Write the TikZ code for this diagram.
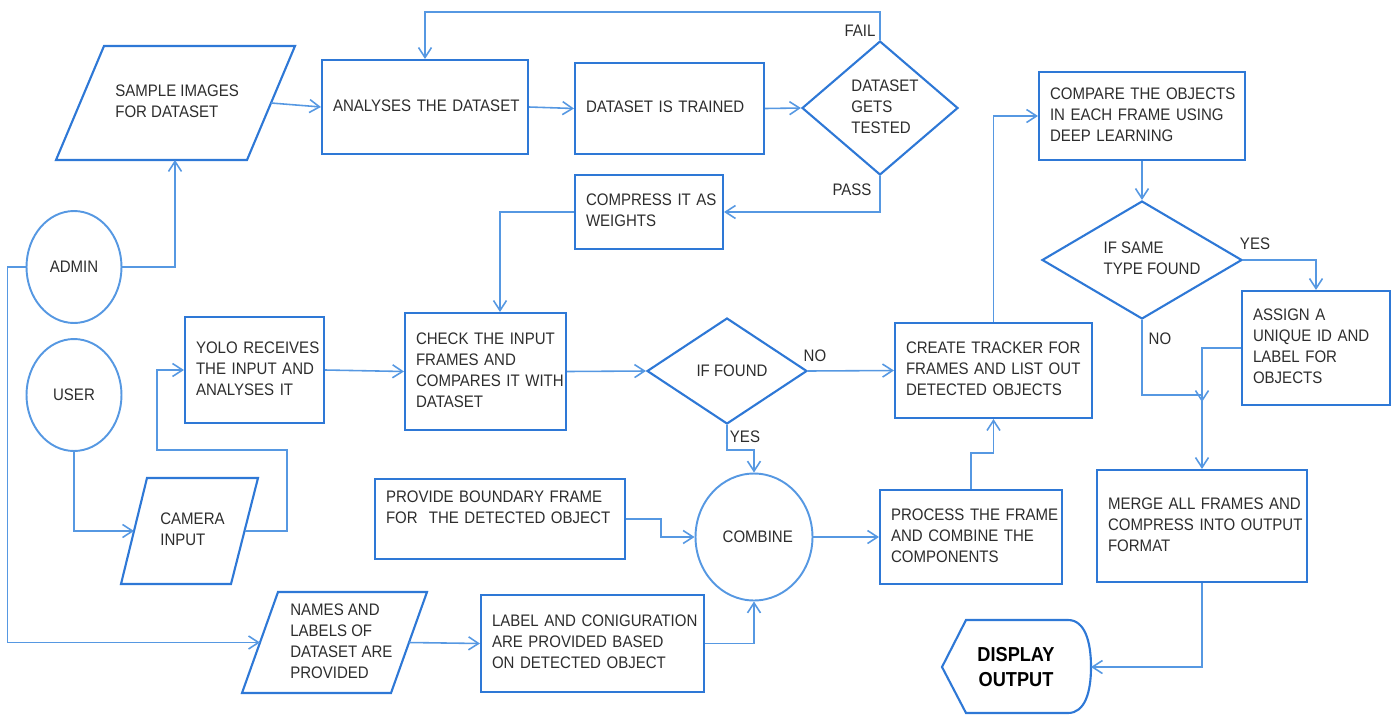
\documentclass[tikz,border=0pt]{standalone}
\usepackage{fontspec}
\setmainfont{Liberation Sans}[FakeStretch=0.9]
\usetikzlibrary{shapes.geometric,arrows.meta}
\definecolor{boxblue}{RGB}{46,120,214}
\definecolor{lineblue}{RGB}{86,152,226}
\definecolor{txtgray}{RGB}{45,45,45}
\newcommand{\boxlines}[1]{\begin{tabular}{@{}l@{}}#1\end{tabular}}
\begin{document}
\begin{tikzpicture}[x=0.02cm,y=-0.02cm,
  font=\fontsize{9.5}{11.9}\selectfont,text=txtgray,
  >={Straight Barb[length=2mm,width=2.6mm]},
  proc/.style n args={2}{draw=boxblue,line width=1.2pt,text width=#1,minimum height=#2,inner xsep=0.22cm,inner ysep=0pt,align=left},
  io/.style={draw=boxblue,line width=1.2pt},
  ask/.style n args={3}{diamond,draw=boxblue,line width=1.2pt,minimum width=#1,minimum height=#2,aspect=#3,inner sep=0pt,align=left},
  actor/.style={ellipse,draw=lineblue,line width=1.1pt,minimum width=1.9cm,minimum height=2.24cm,inner sep=0pt},
  conn/.style={draw=lineblue,line width=0.9pt,->},
  tag/.style={inner sep=0pt}]
\useasboundingbox (0,0) rectangle (1400,714);

% actors
\node[actor] (admin) at (74,267) {ADMIN};
\node[actor] (user) at (74,395) {USER};

% input / output shapes
\draw[io] (104,46) -- (295,46) -- (247,160) -- (56,160) -- cycle;
\node[tag,anchor=west] (sample) at (115,103) {\boxlines{SAMPLE IMAGES\\FOR DATASET}};
\coordinate (sample-e) at (271,103);
\coordinate (sample-s) at (175,160);
\draw[io] (147,478) -- (258,478) -- (231,584) -- (121,584) -- cycle;
\node[tag,anchor=west] (camera) at (160,531) {\boxlines{CAMERA\\INPUT}};
\coordinate (camera-w) at (134,531);
\coordinate (camera-e) at (245,531);
\draw[io] (278,592) -- (427,592) -- (391,693) -- (242,693) -- cycle;
\node[tag,anchor=west] (names) at (290,642.5) {\boxlines{NAMES AND\\LABELS OF\\DATASET ARE\\PROVIDED}};
\coordinate (names-w) at (260,642.5);
\coordinate (names-e) at (409,642.5);
\draw[io] (942,667) -- (966,620) -- (1068,620) .. controls (1085,620) and (1091,642) .. (1091,667)
  .. controls (1091,692) and (1085,713) .. (1068,713) -- (966,713) -- cycle;
\node[tag,text=black,align=center,font=\fontsize{11.5}{14.2}\selectfont\bfseries] (display) at (1016,667) {DISPLAY\\OUTPUT};
\coordinate (display-e) at (1091,667);

% process boxes
\node[proc={3.68cm}{1.88cm}] (analyse) at (425,107) {\boxlines{ANALYSES THE DATASET}};
\node[proc={3.34cm}{1.82cm}] (trained) at (669.5,108.5) {\boxlines{DATASET IS TRAINED}};
\node[proc={2.52cm}{1.48cm}] (compress) at (649,212) {\boxlines{COMPRESS IT AS\\WEIGHTS}};
\node[proc={2.34cm}{2.12cm}] (yolo) at (254.5,370) {\boxlines{YOLO RECEIVES\\THE INPUT AND\\ANALYSES IT}};
\node[proc={2.78cm}{2.34cm}] (check) at (485.5,371.5) {\boxlines{CHECK THE INPUT\\FRAMES AND\\COMPARES IT WITH\\DATASET}};
\node[proc={4.56cm}{1.6cm}] (provide) at (500,519) {\boxlines{PROVIDE BOUNDARY FRAME\\FOR\ \ THE DETECTED OBJECT\\\mbox{}}};
\node[proc={4.02cm}{1.94cm}] (label) at (592.5,643.5) {\boxlines{LABEL AND CONIGURATION\\ARE PROVIDED BASED\\ON DETECTED OBJECT}};
\node[proc={3.2cm}{1.88cm}] (process) at (971,537) {\boxlines{PROCESS THE FRAME\\AND COMBINE THE\\COMPONENTS}};
\node[proc={3.5cm}{1.9cm}] (create) at (993.5,370.5) {\boxlines{CREATE TRACKER FOR\\FRAMES AND LIST OUT\\DETECTED OBJECTS}};
\node[proc={3.68cm}{1.76cm}] (compare) at (1142,116) {\boxlines{COMPARE THE OBJECTS\\IN EACH FRAME USING\\DEEP LEARNING}};
\node[proc={2.52cm}{2.28cm}] (assign) at (1316,348) {\boxlines{ASSIGN A\\UNIQUE ID AND\\LABEL FOR\\OBJECTS}};
\node[proc={3.76cm}{2.24cm}] (merge) at (1202,526) {\boxlines{MERGE ALL FRAMES AND\\COMPRESS INTO OUTPUT\\FORMAT}};

% decisions
\node[ask={3.12cm}{2.68cm}{1.16}] (test) at (880,108) {\hspace*{0.2cm}\boxlines{DATASET\\GETS\\TESTED}};
\node[ask={3.2cm}{2.12cm}{1.5}] (found) at (727,371) {\hspace*{0.2cm}IF FOUND};
\node[ask={4cm}{2.36cm}{1.7}] (same) at (1142,260) {\hspace*{0.4cm}\boxlines{IF SAME\\TYPE FOUND}};
\node[actor,minimum width=2.34cm,minimum height=2.54cm] (combine) at (754,537) {\hspace*{0.15cm}COMBINE};
\coordinate (nojoin) at (1202,402);

% labels
\node[tag] (lfail) at (860,31) {FAIL};
\node[tag] (lpass) at (852,190) {PASS};
\node[tag] (lno) at (815,356) {NO};
\node[tag] (lyes) at (745,437) {YES};
\node[tag] (lyes2) at (1255,244) {YES};
\node[tag] (lno2) at (1160,339) {NO};

% connectors
\draw[conn] (admin.east) -| (sample-s);
\draw[conn] (sample-e) -- (analyse.west);
\draw[conn] (analyse.east) -- (trained.west);
\draw[conn] (trained.east) -- (test.west);
\draw[conn] (test.north) -- ++(0,-28) -| (analyse.north);
\draw[conn] (test.south) |- (compress.east);
\draw[conn] (compress.west) -| ([xshift=0.29cm]check.north);
\draw[conn] (admin.west) -- ++(-18,0) |- (names-w);
\draw[conn] (user.south) |- (camera-w);
\draw[conn] (camera-e) -- ++(42,0) -- ++(0,-81) -- ++(-130,0) |- (yolo.west);
\draw[conn] (yolo.east) -- (check.west);
\draw[conn] (check.east) -- (found.west);
\draw[conn] (found.east) -- (create.west);
\draw[conn] (found.south) -- ++(0,25) -| (combine.north);
\draw[conn] (provide.east) -- ++(35,0) |- (combine.west);
\draw[conn] (names-e) -- (label.west);
\draw[conn] (label.east) -| (combine.south);
\draw[conn] (combine.east) -- (process.west);
\draw[conn] (process.north) -- ++(0,-36) -| (create.south);
\draw[conn] (create.north) |- (compare.west);
\draw[conn] (compare.south) -- (same.north);
\draw[conn] (same.east) -| (assign.north);
\draw[conn] (same.south) -- ++(0,75) -| (nojoin);
\draw[conn] (assign.west) -| (merge.north);
\draw[conn] (merge.south) |- (display-e);
\end{tikzpicture}
\end{document}
